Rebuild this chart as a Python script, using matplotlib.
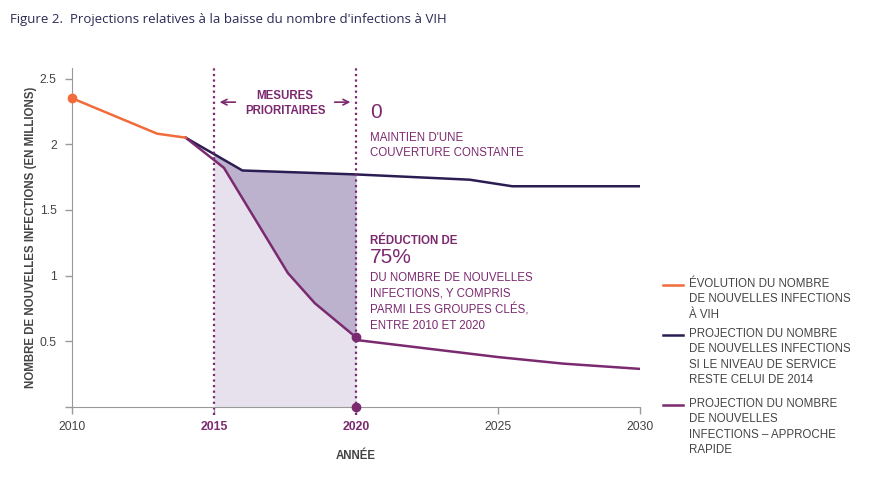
import numpy as np
import matplotlib
matplotlib.use("Agg")
import matplotlib.pyplot as plt

# data
years_hist = [2010, 2013, 2014]
vals_hist = [2.35, 2.08, 2.05]

years_const = [2014, 2016, 2020, 2024, 2025.5, 2030]
vals_const = [2.05, 1.80, 1.77, 1.73, 1.68, 1.68]

years_fast = [2014, 2015, 2015.35, 2017.6, 2018.55, 2020, 2020.01, 2025, 2027.3, 2030]
vals_fast = [2.05, 1.88, 1.82, 1.02, 0.79, 0.53, 0.51, 0.38, 0.33, 0.29]

xticks = [2010, 2015, 2020, 2025, 2030]
yticks = [0, 0.5, 1, 1.5, 2, 2.5]
ytick_labels = ["", "0.5", "1", "1.5", "2", "2.5"]

legend_labels = ["ÉVOLUTION DU NOMBRE\nDE NOUVELLES INFECTIONS\nÀ VIH",
                 "PROJECTION DU NOMBRE\nDE NOUVELLES INFECTIONS\nSI LE NIVEAU DE SERVICE\nRESTE CELUI DE 2014",
                 "PROJECTION DU NOMBRE\nDE NOUVELLES\nINFECTIONS – APPROCHE\nRAPIDE"]

orange = "#f26b3a"
navy = "#2b1d52"
purple = "#7b2a6f"
grey = "#444444"
helv = ["Liberation Sans", "DejaVu Sans"]
fs = 8.3

fig = plt.figure(figsize=(8.83, 4.97), dpi=100)
ax = fig.add_axes([72/883, 90/497, 568/883, 339/497])

# shaded areas between 2015 and 2020
xs = np.linspace(2015, 2020, 200)
c = np.interp(xs, years_const, vals_const)
f = np.interp(xs, years_fast[:6], vals_fast[:6])
ax.fill_between(xs, 0, f, color="#e6e1ec", lw=0)
ax.fill_between(xs, f, c, color="#bdb2cd", lw=0)

ax.plot(years_const, vals_const, color=navy, lw=1.8)
ax.plot(years_fast, vals_fast, color=purple, lw=1.8)
ax.plot(years_hist, vals_hist, color=orange, lw=1.8)
ax.plot([2010], [2.35], "o", color=orange, ms=6, clip_on=False, zorder=5)
ax.plot([2020], [0.53], "o", color=purple, ms=6, zorder=5)
ax.plot([2020], [0], "o", color=purple, ms=6, clip_on=False, zorder=5)

for xv in [2015, 2020]:
    ax.plot([xv, xv], [-0.06, 2.58], color=purple, lw=1.6, ls=(0, (1, 1.5)), clip_on=False)

ax.set_xlim(2010, 2030)
ax.set_ylim(0, 2.58)
ax.set_xticks(xticks)
ax.set_xticklabels([str(x) for x in xticks])
ax.set_yticks(yticks)
ax.set_yticklabels(ytick_labels)
ax.tick_params(colors="#999999", length=5, width=1, labelcolor=grey)
ax.tick_params(axis="x", pad=5)
ax.tick_params(axis="y", pad=6)
for lab in ax.get_xticklabels() + ax.get_yticklabels():
    lab.set_fontsize(8.8)
    lab.set_family(helv)
for lab in ax.get_xticklabels():
    if lab.get_text() in ("2015", "2020"):
        lab.set_color(purple)
        lab.set_fontweight("bold")
ax.spines["top"].set_visible(False)
ax.spines["right"].set_visible(False)
ax.spines["left"].set_color("#999999")
ax.spines["bottom"].set_color("#999999")

ax.set_xlabel("ANNÉE", fontsize=fs, fontweight="bold", color=grey, labelpad=12, family=helv)
ax.set_ylabel("NOMBRE DE NOUVELLES INFECTIONS (EN MILLIONS)", fontsize=fs, fontweight="bold",
              color=grey, labelpad=2, family=helv)

# annotations
ax.text(2017.5, 2.31, "MESURES\nPRIORITAIRES", ha="center", va="center", fontsize=fs,
        fontweight="bold", color=purple, family=helv, linespacing=1.3)
ax.annotate("", xy=(2015.1, 2.32), xytext=(2015.85, 2.32),
            arrowprops=dict(arrowstyle="->", color=purple, lw=1.2))
ax.annotate("", xy=(2019.9, 2.32), xytext=(2019.15, 2.32),
            arrowprops=dict(arrowstyle="->", color=purple, lw=1.2))
ax.text(2020.5, 2.24, "0", fontsize=15, color=purple, va="center", family=helv)
ax.text(2020.5, 1.99, "MAINTIEN D'UNE\nCOUVERTURE CONSTANTE", fontsize=fs, color=purple,
        va="center", family=helv, linespacing=1.38)
ax.text(2020.5, 1.26, "RÉDUCTION DE", fontsize=fs, fontweight="bold", color=purple,
        va="center", family=helv)
ax.text(2020.5, 1.14, "75%", fontsize=15, color=purple, va="center", family=helv)
ax.text(2020.5, 0.80, "DU NOMBRE DE NOUVELLES\nINFECTIONS, Y COMPRIS\nPARMI LES GROUPES CLÉS,\nENTRE 2010 ET 2020",
        fontsize=fs, color=purple, va="center", family=helv, linespacing=1.42)

# legend drawn by hand on the right
leg_y = [285, 335, 405]
leg_col = [orange, navy, purple]
for yy, col, lab in zip(leg_y, leg_col, legend_labels):
    fy = 1 - yy / 497
    fig.add_artist(plt.Line2D([663/883, 683/883], [fy, fy], color=col, lw=1.8))
    fig.text(689/883, fy + 7/497, lab, fontsize=fs, color=grey, va="top", family=helv,
             linespacing=1.38)

fig.text(10/883, 1 - 20/497, "Figure 2.  Projections relatives à la baisse du nombre d'infections à VIH",
         fontsize=9.5, color="#2b2a55", va="center", family=["Open Sans", "DejaVu Sans"])

fig.savefig("out.png", dpi=100)
